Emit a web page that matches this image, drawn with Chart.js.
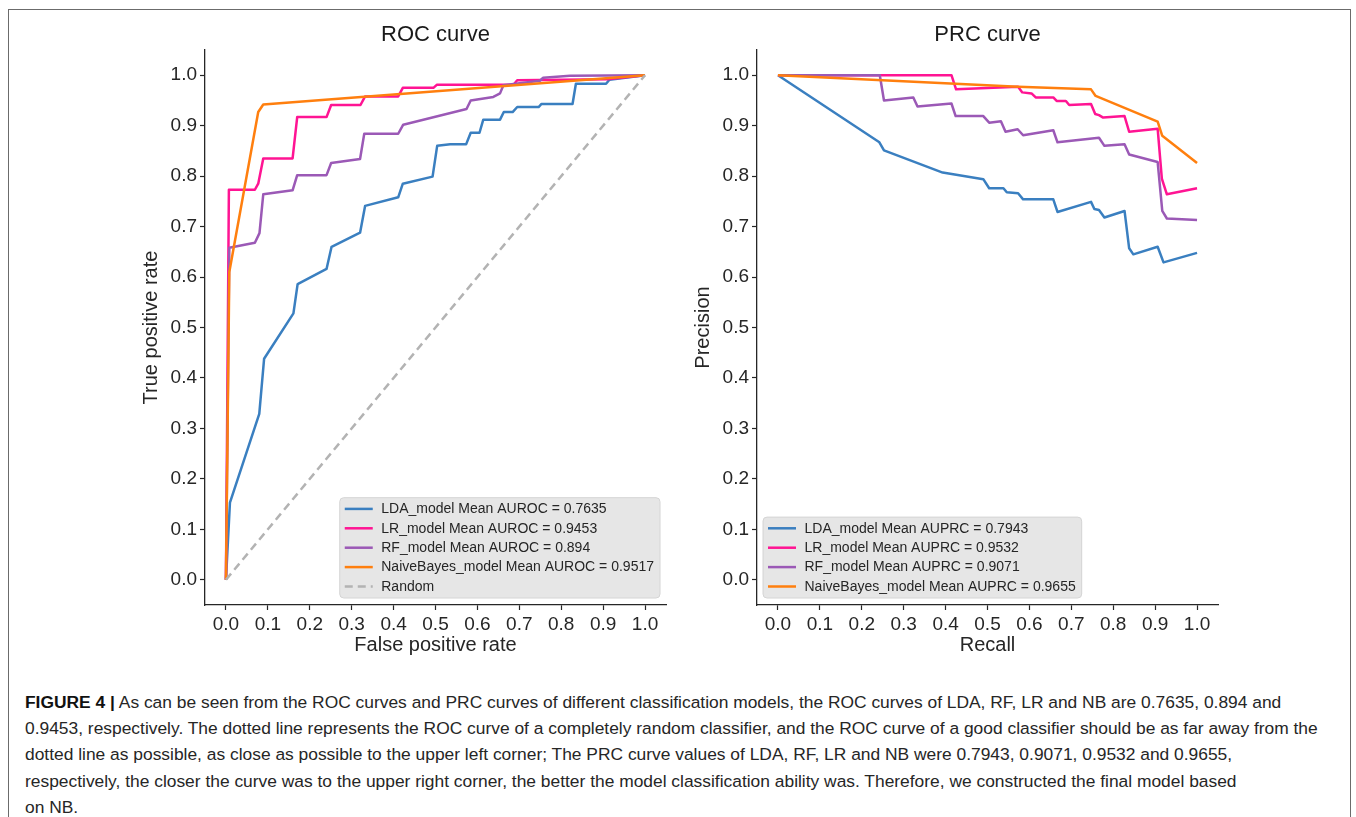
<!DOCTYPE html>
<html>
<head>
<meta charset="utf-8">
<script src="https://cdn.jsdelivr.net/npm/chart.js@4.4.1/dist/chart.umd.min.js"></script>
<style>
  html, body { margin: 0; padding: 0; background: #fff; }
  body { width: 1356px; height: 817px; overflow: hidden; position: relative; font-family: "Liberation Sans", Arial, sans-serif; }
  #frame { position: absolute; left: 8px; top: 9px; width: 1343px; height: 900px; border: 1px solid #6b6b6b; box-sizing: border-box; }
  canvas { position: absolute; }
  #roc { left: 130px; top: 10px; }
  #prc { left: 682px; top: 10px; }
  #cap { position: absolute; left: 25px; top: 689px; font-size: 17.4px; line-height: 26.2px; color: #262626; white-space: nowrap; }
  #cap b { font-weight: bold; color: #111; }
</style>
</head>
<body>
<div id="frame"></div>
<canvas id="roc" width="560" height="655" style="width:560px;height:655px"></canvas>
<canvas id="prc" width="560" height="655" style="width:560px;height:655px"></canvas>
<div id="cap"><b>FIGURE 4 |</b> As can be seen from the ROC curves and PRC curves of different classification models, the ROC curves of LDA, RF, LR and NB are 0.7635, 0.894 and<br>0.9453, respectively. The dotted line represents the ROC curve of a completely random classifier, and the ROC curve of a good classifier should be as far away from the<br>dotted line as possible, as close as possible to the upper left corner; The PRC curve values of LDA, RF, LR and NB were 0.7943, 0.9071, 0.9532 and 0.9655,<br>respectively, the closer the curve was to the upper right corner, the better the model classification ability was. Therefore, we constructed the final model based<br>on NB.</div>
<script>
// ---------- tick labels ----------
const tickValues = [0, 0.1, 0.2, 0.3, 0.4, 0.5, 0.6, 0.7, 0.8, 0.9, 1.0];

// ---------- ROC data ----------
const rocLdaFpr = [0, 0.0095, 0.0795, 0.091, 0.161, 0.171, 0.240, 0.252, 0.320, 0.332, 0.411, 0.422, 0.493, 0.504, 0.535, 0.573, 0.584, 0.605, 0.614, 0.654, 0.663, 0.684, 0.695, 0.746, 0.753, 0.827, 0.835, 0.907, 0.915, 1.0];
const rocLdaTpr = [0, 0.153, 0.329, 0.438, 0.528, 0.586, 0.616, 0.660, 0.688, 0.741, 0.758, 0.785, 0.799, 0.860, 0.863, 0.863, 0.886, 0.886, 0.912, 0.912, 0.927, 0.927, 0.937, 0.937, 0.943, 0.943, 0.983, 0.983, 0.991, 1.0];

const rocLrFpr = [0, 0.007, 0.069, 0.077, 0.089, 0.159, 0.170, 0.240, 0.251, 0.321, 0.332, 0.411, 0.422, 0.495, 0.503, 0.686, 0.695, 0.910, 1.0];
const rocLrTpr = [0, 0.773, 0.773, 0.785, 0.835, 0.835, 0.917, 0.917, 0.941, 0.941, 0.958, 0.958, 0.975, 0.975, 0.981, 0.981, 0.990, 0.992, 1.0];

const rocRfFpr = [0, 0.008, 0.069, 0.080, 0.089, 0.159, 0.170, 0.240, 0.251, 0.320, 0.330, 0.411, 0.423, 0.574, 0.584, 0.638, 0.654, 0.662, 0.749, 0.757, 0.821, 1.0];
const rocRfTpr = [0, 0.658, 0.668, 0.687, 0.764, 0.772, 0.802, 0.802, 0.826, 0.834, 0.884, 0.884, 0.902, 0.933, 0.950, 0.957, 0.964, 0.980, 0.989, 0.995, 0.999, 1.0];

const rocNbFpr = [0, 0.008, 0.077, 0.089, 1.0];
const rocNbTpr = [0, 0.610, 0.927, 0.942, 1.0];

const randomX = [0, 1];
const randomY = [0, 1];

// ---------- PRC data ----------
const prcLdaRecall = [0, 0.242, 0.253, 0.393, 0.490, 0.504, 0.538, 0.546, 0.573, 0.585, 0.657, 0.667, 0.747, 0.755, 0.766, 0.779, 0.827, 0.838, 0.848, 0.906, 0.920, 1.0];
const prcLdaPrec   = [1.0, 0.867, 0.851, 0.807, 0.794, 0.776, 0.776, 0.768, 0.766, 0.754, 0.754, 0.729, 0.749, 0.735, 0.733, 0.718, 0.731, 0.657, 0.645, 0.660, 0.629, 0.648];

const prcLrRecall = [0, 0.414, 0.425, 0.573, 0.583, 0.605, 0.615, 0.657, 0.665, 0.687, 0.695, 0.747, 0.757, 0.766, 0.776, 0.827, 0.838, 0.906, 0.916, 0.928, 1.0];
const prcLrPrec   = [1.0, 1.0, 0.972, 0.977, 0.966, 0.964, 0.956, 0.956, 0.949, 0.949, 0.941, 0.943, 0.923, 0.921, 0.916, 0.919, 0.888, 0.894, 0.795, 0.764, 0.776];

const prcRfRecall = [0, 0.243, 0.253, 0.323, 0.333, 0.414, 0.424, 0.490, 0.504, 0.532, 0.543, 0.572, 0.585, 0.657, 0.667, 0.766, 0.779, 0.827, 0.838, 0.906, 0.917, 0.928, 1.0];
const prcRfPrec   = [1.0, 1.0, 0.950, 0.956, 0.938, 0.944, 0.919, 0.919, 0.906, 0.909, 0.888, 0.893, 0.881, 0.891, 0.867, 0.876, 0.860, 0.863, 0.843, 0.828, 0.731, 0.716, 0.713];

const prcNbRecall = [0, 0.573, 0.747, 0.758, 0.906, 0.917, 1.0];
const prcNbPrec   = [1.0, 0.977, 0.972, 0.959, 0.908, 0.880, 0.826];

// ---------- labels ----------
const rocLabels = ["LDA_model Mean AUROC = 0.7635", "LR_model Mean AUROC = 0.9453", "RF_model Mean AUROC = 0.894", "NaiveBayes_model Mean AUROC = 0.9517", "Random"];
const prcLabels = ["LDA_model Mean AUPRC = 0.7943", "LR_model Mean AUPRC = 0.9532", "RF_model Mean AUPRC = 0.9071", "NaiveBayes_model Mean AUPRC = 0.9655"];

const COLORS = { lda: "#3a7fc0", lr: "#ff1493", rf: "#9b59b6", nb: "#ff7f0e", rnd: "#b3b3b3" };
const FONT = '"Liberation Sans", Arial, sans-serif';
const INK = "#262626";

function pts(xs, ys) { return xs.map((x, i) => ({ x: x, y: ys[i] })); }

function line(label, xs, ys, color, order, dash) {
  return {
    label: label, data: pts(xs, ys), showLine: true, borderColor: color, backgroundColor: color,
    borderWidth: 2.5, pointRadius: 0, pointHoverRadius: 0, tension: 0, fill: false,
    borderDash: dash || [], order: order, borderJoinStyle: 'round', borderCapStyle: 'butt'
  };
}

// title centred over the plotting area (matplotlib style)
const areaTitle = {
  id: 'areaTitle',
  afterDraw(chart, args, opts) {
    const { ctx, chartArea: a } = chart;
    ctx.save();
    ctx.font = opts.size + 'px ' + FONT;
    ctx.fillStyle = '#1a1a1a';
    ctx.textAlign = 'center';
    ctx.textBaseline = 'middle';
    ctx.fillText(opts.text, (a.left + a.right) / 2, opts.y);
    ctx.restore();
  }
};

const boxLegend = {
  id: 'boxLegend',
  afterDraw(chart, args, opts) {
    const { ctx, chartArea: a } = chart;
    const items = chart.data.datasets;
    ctx.save();
    ctx.font = opts.fontSize + 'px ' + FONT;
    const tw = Math.max(...items.map(d => ctx.measureText(d.label).width));
    const padL = 5, handle = 28, gap = 8.5, padR = 6, padT = 1.5, padB = 1.8, row = 19.4;
    const w = padL + handle + gap + tw + padR;
    const h = padT + items.length * row + padB;
    const x0 = opts.loc === 'right' ? a.right - 6 - w : a.left + 6;
    const y0 = a.bottom - 7 - h;
    const r = 4;
    ctx.beginPath();
    ctx.moveTo(x0 + r, y0);
    ctx.lineTo(x0 + w - r, y0); ctx.quadraticCurveTo(x0 + w, y0, x0 + w, y0 + r);
    ctx.lineTo(x0 + w, y0 + h - r); ctx.quadraticCurveTo(x0 + w, y0 + h, x0 + w - r, y0 + h);
    ctx.lineTo(x0 + r, y0 + h); ctx.quadraticCurveTo(x0, y0 + h, x0, y0 + h - r);
    ctx.lineTo(x0, y0 + r); ctx.quadraticCurveTo(x0, y0, x0 + r, y0);
    ctx.closePath();
    ctx.fillStyle = 'rgba(229,229,229,0.95)';
    ctx.fill();
    ctx.strokeStyle = '#d4d4d4';
    ctx.lineWidth = 1;
    ctx.stroke();
    items.forEach((d, i) => {
      const cy = y0 + padT + row * (i + 0.5);
      ctx.beginPath();
      ctx.setLineDash(d.borderDash || []);
      ctx.strokeStyle = d.borderColor;
      ctx.lineWidth = 2.5;
      ctx.moveTo(x0 + padL, cy);
      ctx.lineTo(x0 + padL + handle, cy);
      ctx.stroke();
      ctx.setLineDash([]);
      ctx.fillStyle = INK;
      ctx.textBaseline = 'middle';
      ctx.textAlign = 'left';
      ctx.fillText(d.label, x0 + padL + handle + gap, cy + 0.5);
    });
    ctx.restore();
  }
};

function axis(titleText, isX, titlePad) {
  return {
    type: 'linear', min: -0.05, max: 1.05,
    afterBuildTicks: s => { s.ticks = tickValues.map(v => ({ value: v })); },
    afterFit: s => { if (isX) s.height = 60; else s.width = 75; },
    ticks: { callback: v => Number(v).toFixed(1), font: { family: FONT, size: 19 }, color: INK, padding: 3, maxRotation: 0, autoSkip: false },
    grid: { display: true, drawOnChartArea: false, drawTicks: true, tickLength: 5, tickColor: INK, tickWidth: 1.2 },
    border: { display: true, color: INK, width: 1.3 },
    title: { display: true, text: titleText, font: { family: FONT, size: 20 }, color: INK, padding: titlePad }
  };
}

function makeChart(id, title, xTitle, yTitle, datasets, loc) {
  return new Chart(document.getElementById(id), {
    type: 'scatter',
    data: { datasets: datasets },
    options: {
      responsive: false, animation: false, devicePixelRatio: 1,
      layout: { padding: { left: 0, right: 24, top: 40, bottom: 0 } },
      plugins: {
        legend: { display: false }, tooltip: { enabled: false }, title: { display: false },
        areaTitle: { text: title, size: 22, y: 25 },
        boxLegend: { loc: loc, fontSize: 14 }
      },
      scales: {
        x: axis(xTitle, true, { top: 0, bottom: 8 }),
        y: axis(yTitle, false, { top: 9, bottom: 0 })
      }
    },
    plugins: [areaTitle, boxLegend]
  });
}

makeChart('roc', 'ROC curve', 'False positive rate', 'True positive rate', [
  line(rocLabels[0], rocLdaFpr, rocLdaTpr, COLORS.lda, 4),
  line(rocLabels[1], rocLrFpr, rocLrTpr, COLORS.lr, 3),
  line(rocLabels[2], rocRfFpr, rocRfTpr, COLORS.rf, 2),
  line(rocLabels[3], rocNbFpr, rocNbTpr, COLORS.nb, 1),
  line(rocLabels[4], randomX, randomY, COLORS.rnd, 0, [8, 5])
], 'right');

makeChart('prc', 'PRC curve', 'Recall', 'Precision', [
  line(prcLabels[0], prcLdaRecall, prcLdaPrec, COLORS.lda, 4),
  line(prcLabels[1], prcLrRecall, prcLrPrec, COLORS.lr, 3),
  line(prcLabels[2], prcRfRecall, prcRfPrec, COLORS.rf, 2),
  line(prcLabels[3], prcNbRecall, prcNbPrec, COLORS.nb, 1)
], 'left');
</script>
</body>
</html>
